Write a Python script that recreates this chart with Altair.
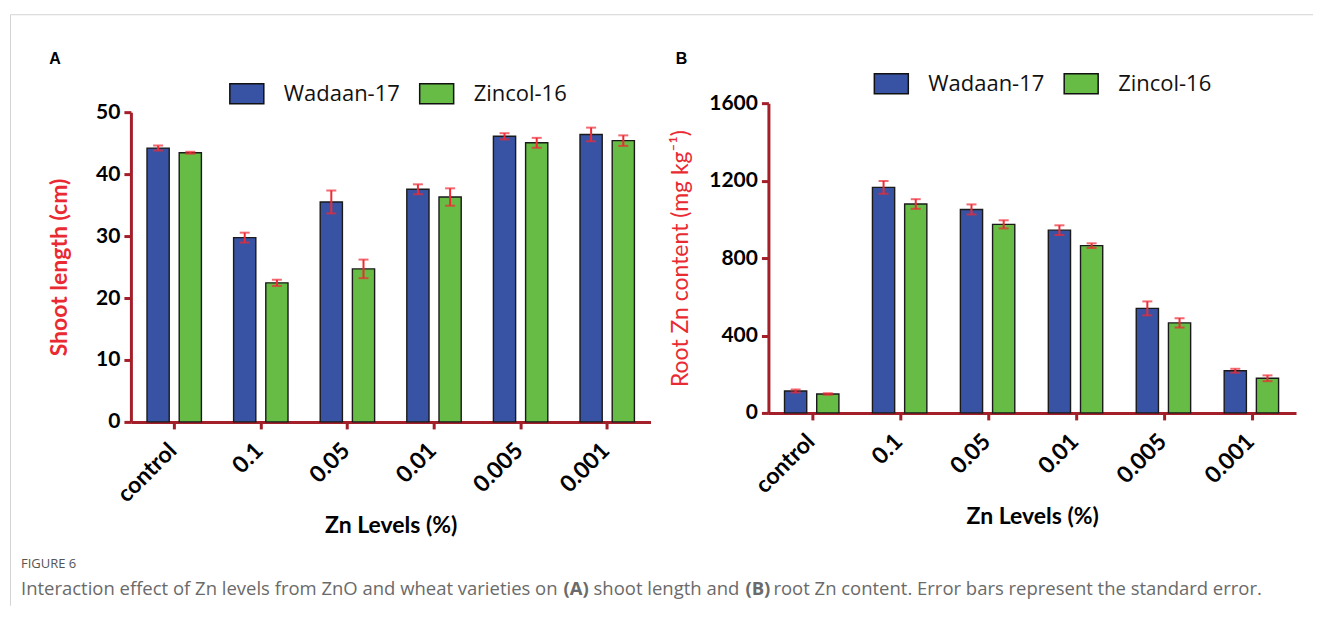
import altair as alt
import pandas as pd

# ---------------- data ----------------
levels = ["control", "0.1", "0.05", "0.01", "0.005", "0.001"]
varieties = ["Wadaan-17", "Zincol-16"]

shoot_wadaan = [44.2, 29.75, 35.5, 37.55, 46.1, 46.4]
shoot_wadaan_se = [0.4, 0.8, 1.85, 0.8, 0.5, 1.1]
shoot_zincol = [43.45, 22.45, 24.7, 36.3, 45.05, 45.4]
shoot_zincol_se = [0.15, 0.5, 1.5, 1.4, 0.8, 0.85]

root_wadaan = [113, 1165, 1051, 944, 540, 218]
root_wadaan_se = [8, 33, 26, 25, 36, 10]
root_zincol = [98, 1079, 974, 864, 465, 179]
root_zincol_se = [4, 25, 21, 12, 24, 15]

shoot_ticks = [0, 10, 20, 30, 40, 50]
root_ticks = [0, 400, 800, 1200, 1600]

caption_head = "FIGURE 6"
caption_parts = [
    ("Interaction effect of Zn levels from ZnO and wheat varieties on", "normal"),
    ("(A)", "bold"),
    ("shoot length and", "normal"),
    ("(B)", "bold"),
    ("root Zn content. Error bars represent the standard error.", "normal"),
]


def make_df(w, wse, z, zse):
    rows = []
    for i, lv in enumerate(levels):
        rows.append({"level": lv, "variety": varieties[0], "value": w[i],
                     "lo": w[i] - wse[i], "hi": w[i] + wse[i]})
        rows.append({"level": lv, "variety": varieties[1], "value": z[i],
                     "lo": z[i] - zse[i], "hi": z[i] + zse[i]})
    return pd.DataFrame(rows)


shoot_df = make_df(shoot_wadaan, shoot_wadaan_se, shoot_zincol, shoot_zincol_se)
root_df = make_df(root_wadaan, root_wadaan_se, root_zincol, root_zincol_se)

# ---------------- styles ----------------
AXIS_RED = "#a3202a"
ERR_RED = "#ee2a34"
TITLE_RED = "#ea2a32"
BLUE = "#3953a4"
GREEN = "#67bc45"
FRAME = "#d4d4d4"
CAP_GRAY = "#6a6a6a"


def panel(df, ydomain, yvalues, yrange, ytitle, ytitle_x, ytitle_weight,
          legend_x, legend_y):
    x = alt.X("level:N", sort=levels, title="Zn Levels (%)",
              scale=alt.Scale(paddingInner=0, paddingOuter=0),
              axis=alt.Axis(domainColor=AXIS_RED, domainWidth=3,
                            tickColor=AXIS_RED, tickWidth=3, tickSize=7,
                            labelAngle=-45, labelAlign="right",
                            labelBaseline="top", labelFont="Lato",
                            labelFontSize=23, labelFontWeight="bold",
                            labelColor="black", labelPadding=10,
                            labelOffset=-9,
                            titleFont="Lato", titleFontSize=23,
                            titleFontWeight="bold", titleColor="black",
                            titleY=104, titleBaseline="middle"))
    xo = alt.XOffset("variety:N", sort=varieties,
                     scale=alt.Scale(paddingInner=0.31, paddingOuter=0.5))
    yscale = alt.Scale(domain=ydomain, range=yrange, nice=False, zero=True)
    yaxis = alt.Axis(values=yvalues, format="d", grid=False,
                     domainColor=AXIS_RED,
                     domainWidth=3, tickColor=AXIS_RED, tickWidth=3,
                     tickSize=7, labelFont="Lato", labelFontSize=21,
                     labelFontWeight="bold", labelColor="black",
                     labelPadding=4, titleFont="Lato", titleFontSize=23,
                     titleFontWeight=ytitle_weight, titleColor=TITLE_RED,
                     titleX=ytitle_x, titleBaseline="middle")

    def Y(field):
        return alt.Y(field, type="quantitative", scale=yscale, axis=yaxis,
                     title=ytitle)

    base = alt.Chart(df)
    bars = base.mark_bar(stroke="#1a1a1a", strokeWidth=1.4).encode(
        x=x, xOffset=xo, y=Y("value"),
        color=alt.Color("variety:N", sort=varieties,
                        scale=alt.Scale(domain=varieties, range=[BLUE, GREEN]),
                        legend=alt.Legend(
                            orient="none", legendX=legend_x,
                            legendY=legend_y, direction="horizontal",
                            title=None, padding=0,
                            symbolType="M-1,-0.59H1V0.59H-1Z",
                            symbolSize=1156, symbolStrokeWidth=1.5,
                            symbolStrokeColor="#111111", symbolOpacity=1,
                            labelFont="Open Sans", labelFontSize=22,
                            labelColor="#111111", labelOffset=19,
                            columnPadding=16)))
    err = base.mark_rule(color=ERR_RED, strokeWidth=2).encode(
        x=x, xOffset=xo, y=Y("lo"), y2="hi:Q")
    cap_lo = base.mark_tick(color=ERR_RED, thickness=2, size=10).encode(
        x=x, xOffset=xo, y=Y("lo"))
    cap_hi = base.mark_tick(color=ERR_RED, thickness=2, size=10).encode(
        x=x, xOffset=xo, y=Y("hi"))
    return [bars, err, cap_lo, cap_hi]


one = alt.Data(values=[{}])


def label(text, x, y, size, weight, color, font, align="left"):
    return alt.Chart(one).mark_text(
        text=text, font=font, fontSize=size, fontWeight=weight, color=color,
        align=align, baseline="middle").encode(x=alt.value(x), y=alt.value(y))


# annotations (positions relative to panel A plot origin)
frame_top = alt.Chart(one).mark_rule(color=FRAME, strokeWidth=1).encode(
    x=alt.value(-120.5), x2=alt.value(1183), y=alt.value(-88.5))
frame_left = alt.Chart(one).mark_rule(color=FRAME, strokeWidth=1).encode(
    x=alt.value(-120.5), y=alt.value(-88.5), y2=alt.value(503))

annots = [
    frame_top, frame_left,
    label("A", -76, -44, 16, "bold", "black", "Liberation Sans", "center"),
    label("B", 551, -44, 16, "bold", "black", "Liberation Sans", "center"),
    label(caption_head, -110, 461, 13, "normal", "#555555", "Open Sans"),
]
cap_x = [-110, 433, 463, 615, 643]
for (txt, wt), cx in zip(caption_parts, cap_x):
    annots.append(label(txt, cx, 486, 18.5, wt, CAP_GRAY, "Open Sans"))

panel_a = alt.layer(
    *panel(shoot_df, [0, 50], shoot_ticks, [319, 9],
           "Shoot length (cm)", -71, "bold", 98, -28),
    *annots
).properties(width=520, height=319)

panel_b = alt.layer(
    *panel(root_df, [0, 1600], root_ticks, [310, 0],
           "Root Zn content (mg kg\u207b\u00b9)", -88, "normal", 105, -38)
).properties(width=528, height=310)

chart = alt.hconcat(panel_a, panel_b, spacing=118, bounds="flush").resolve_scale(
    color="independent").resolve_legend(color="independent").properties(
    padding={"left": 1, "top": 5, "right": 0, "bottom": 0}
).configure_view(stroke="transparent")

chart.save("out.html", embed_options={"renderer": "svg", "actions": False})
